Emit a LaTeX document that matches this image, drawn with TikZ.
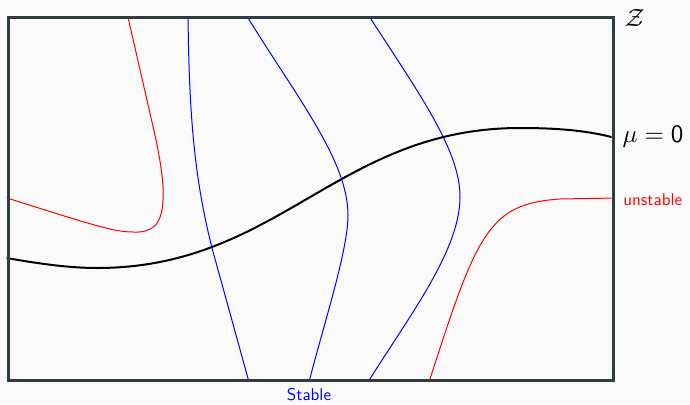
\documentclass[tikz,border=0pt]{standalone}
\definecolor{bgcol}{HTML}{FAFAFA}
\definecolor{framecol}{HTML}{2E3D3F}
\tikzset{
  frameline/.style={draw=framecol, line width=3pt},
  zeroline/.style={draw=black, line width=2pt},
  stableline/.style={draw=blue, line width=1pt},
  unstableline/.style={draw=red, line width=1pt},
  biglabel/.style={inner sep=0pt, scale=2.5},
  smalllabel/.style={inner sep=0pt, font=\sffamily, scale=1.7},
}
\begin{document}
\begin{tikzpicture}[x=1pt,y=-1pt]
\path[fill=bgcol] (0,0) rectangle (690,404);
\useasboundingbox (0,0) rectangle (690,404);
\begin{scope}
\clip (6.5,16.5) rectangle (611.5,378.5);
% unstable (red)
\draw[unstableline] (127,13) -- (155,135) .. controls (161,163) and (164,185) .. (163,200)
  .. controls (162,225) and (152,233) .. (133,232)
  .. controls (115,232) and (95,226) .. (4,197);
\draw[unstableline] (429,382) .. controls (445,333) and (460,285) .. (475,255)
  .. controls (495,215) and (515,202) .. (560,199) -- (615,198);
% stable (blue)
\draw[stableline] (188,13) .. controls (189,120) and (195,180) .. (212,248) -- (249,382);
\draw[stableline] (245,13) .. controls (295,95) and (348,160) .. (348,215)
  .. controls (348,250) and (325,320) .. (309,382);
\draw[stableline] (367,13) .. controls (420,95) and (460,150) .. (460,197)
  .. controls (460,250) and (410,315) .. (368,382);
% mu = 0 (black)
\draw[zeroline] (4,257.5) .. controls (40,264) and (70,268) .. (97,268)
  .. controls (279,268) and (338,128) .. (520,128)
  .. controls (560,128) and (590,131) .. (615,138);
\end{scope}
\node[frameline, fill=none, minimum width=605pt, minimum height=362pt, inner sep=0pt, anchor=north west] (frame) at (6.5,16.5) {};
\node[biglabel, anchor=west] (zlab) at (624,18) {$\mathcal{Z}$};
\node[biglabel, anchor=west] (mulab) at (622,137) {$\mu=\mathsf{0}$};
\node[smalllabel, text=red, anchor=west] (unstablelab) at (623,200) {unstable};
\node[smalllabel, text=blue] (stablelab) at (309,395) {Stable};
\end{tikzpicture}
\end{document}
